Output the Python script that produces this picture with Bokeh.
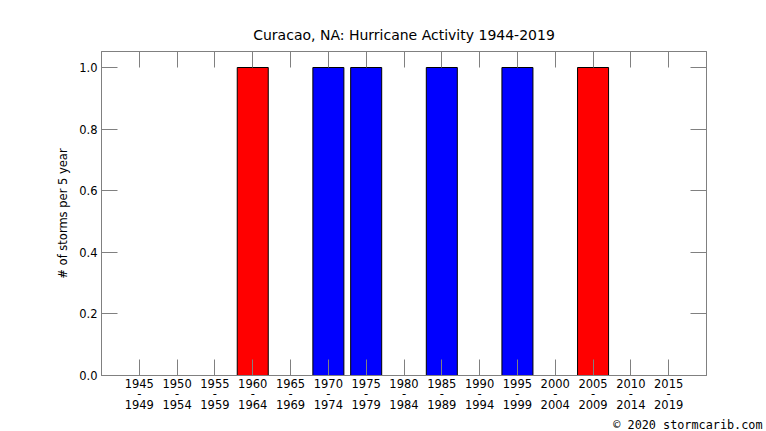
from bokeh.plotting import figure
from bokeh.models import Range1d, FixedTicker, LinearAxis, Title, ColumnDataSource, NumeralTickFormatter
from bokeh.embed import file_html
from bokeh.resources import INLINE

# Data
period_start = [1945, 1950, 1955, 1960, 1965, 1970, 1975, 1980, 1985, 1990, 1995, 2000, 2005, 2010, 2015]
storm_counts = [0, 0, 0, 1, 0, 1, 1, 0, 1, 0, 1, 0, 1, 0, 0]
bar_colors = ["white", "white", "white", "red", "white", "blue", "blue", "white",
              "blue", "white", "blue", "white", "red", "white", "white"]
y_ticks = [0.0, 0.2, 0.4, 0.6, 0.8, 1.0]
title_text = "Curacao, NA: Hurricane Activity 1944-2019"
y_label = "# of storms per 5 year"
credit = "\u00a9 2020 stormcarib.com"

tick_labels = {s: f"{s}\n-\n{s + 4}" for s in period_start}
line_colors = ["black" if c > 0 else None for c in storm_counts]

src = ColumnDataSource(dict(x=period_start, top=storm_counts, fill=bar_colors, line=line_colors))

FONT = "DejaVu Sans"
GRAY = "#808080"

p = figure(width=766, height=431, output_backend="svg", toolbar_location=None,
           x_range=Range1d(1940, 2020), y_range=Range1d(0, 1.052),
           min_border_left=101, min_border_right=60, min_border_top=51, min_border_bottom=56)

p.vbar(x="x", top="top", bottom=0, width=4.1, fill_color="fill", line_color="line",
       line_width=1, source=src)

p.xgrid.visible = False
p.ygrid.visible = False
p.outline_line_color = GRAY
p.outline_line_width = 1
p.background_fill_color = "white"
p.border_fill_color = "white"

# Title
p.title.text = title_text
p.title.align = "center"
p.title.text_font = FONT
p.title.text_font_size = "14px"
p.title.text_font_style = "normal"
p.title.text_color = "black"
p.title.standoff = 18

xa = p.xaxis[0]
xa.ticker = FixedTicker(ticks=period_start)
xa.major_label_overrides = tick_labels
ya = p.yaxis[0]
ya.ticker = FixedTicker(ticks=y_ticks)
ya.formatter = NumeralTickFormatter(format="0.0")
ya.axis_label = y_label
ya.axis_label_text_font = FONT
ya.axis_label_text_font_size = "11.5px"
ya.axis_label_text_font_style = "normal"
ya.axis_label_text_color = "black"
ya.axis_label_standoff = 6

for ax in (xa, ya):
    ax.axis_line_color = GRAY
    ax.major_tick_line_color = GRAY
    ax.major_tick_in = 16
    ax.major_tick_out = 0
    ax.minor_tick_line_color = None
    ax.major_label_text_font = FONT
    ax.major_label_text_font_size = "11.5px"
    ax.major_label_text_color = "black"
    ax.major_label_standoff = 4
xa.major_label_standoff = 1
xa.major_label_text_line_height = 0.78

top_ax = LinearAxis(ticker=FixedTicker(ticks=period_start))
right_ax = LinearAxis(ticker=FixedTicker(ticks=y_ticks))
for ax in (top_ax, right_ax):
    ax.axis_line_color = GRAY
    ax.major_tick_line_color = GRAY
    ax.major_tick_in = 16
    ax.major_tick_out = 0
    ax.minor_tick_line_color = None
    ax.major_label_text_font_size = "1px"
    ax.major_label_text_color = None
    ax.major_label_standoff = 0
p.add_layout(top_ax, "above")
p.add_layout(right_ax, "right")

cred = Title(text=credit, align="right", text_font="DejaVu Sans Mono", text_font_size="11.8px",
             text_font_style="normal", text_color="black", standoff=0, offset=-56)
p.add_layout(cred, "below")

open("out.html", "w").write(file_html(p, INLINE))
